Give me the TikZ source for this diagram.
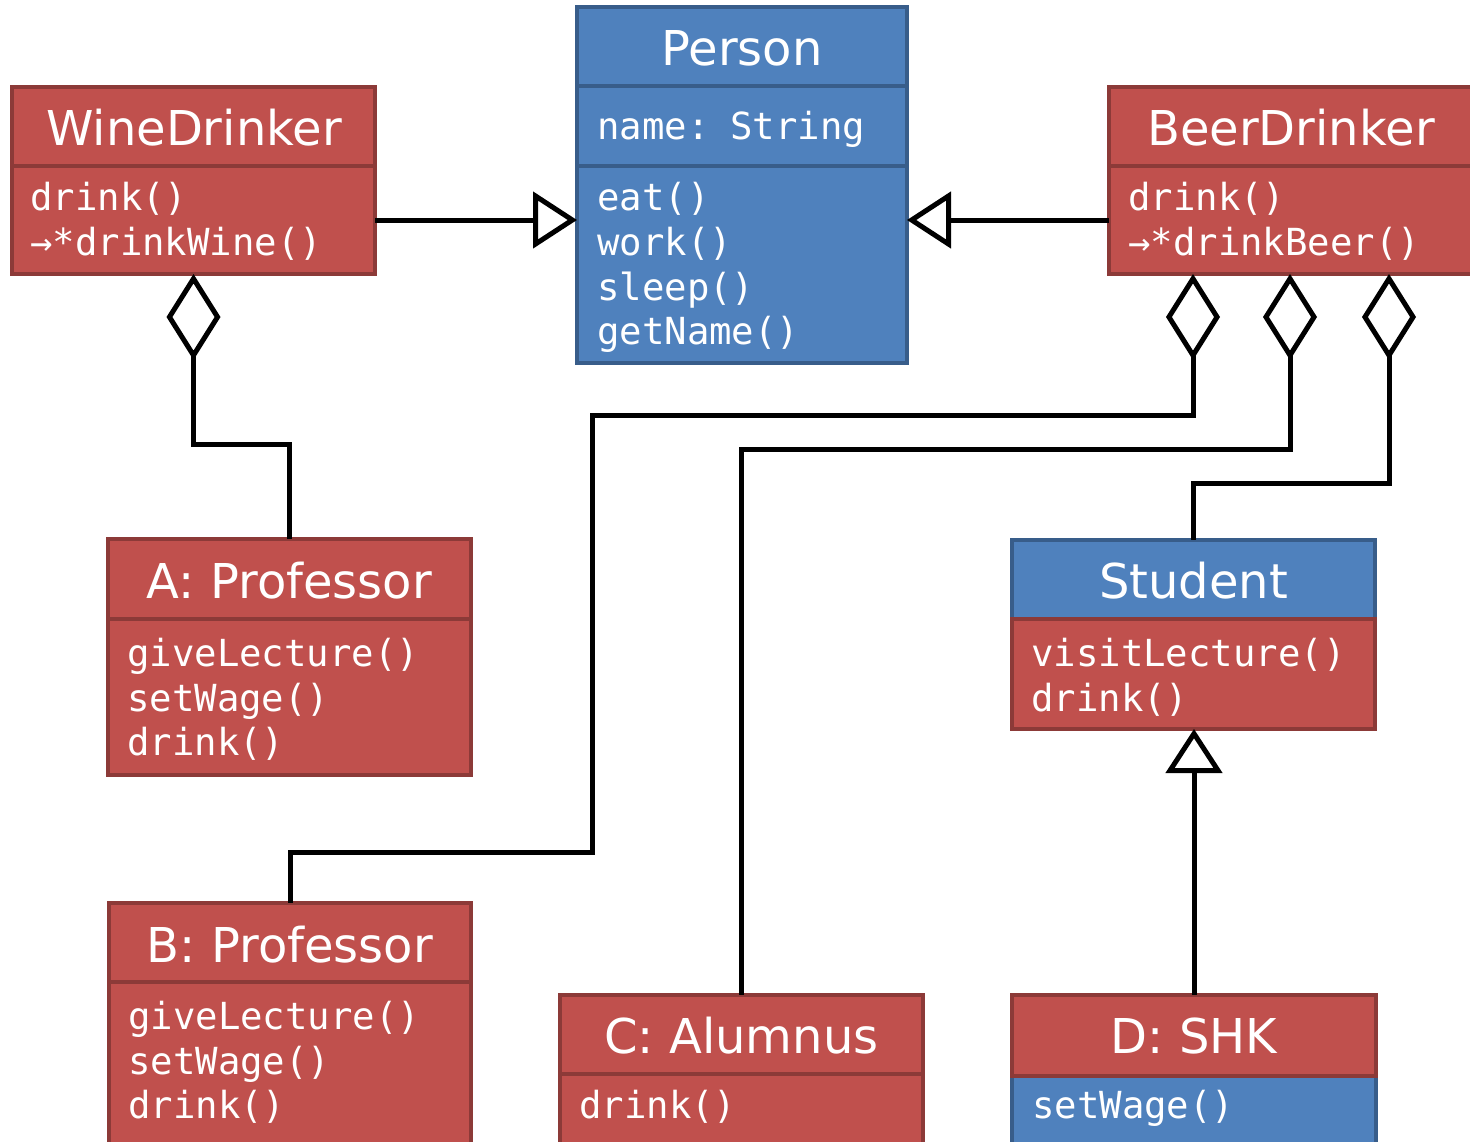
\documentclass[tikz,border=0pt]{standalone}
\usepackage{fontspec}
\usetikzlibrary{arrows.meta}
\newfontfamily\titlefont{DejaVu Sans}
\newfontfamily\methfont{DejaVu Sans Mono}
\definecolor{rfill}{HTML}{C0504D}
\definecolor{rline}{HTML}{8C3A38}
\definecolor{bfill}{HTML}{4F81BD}
\definecolor{bline}{HTML}{385D8A}
\tikzset{
  comp/.style={anchor=north west, inner sep=0pt, outer sep=0pt, line width=4pt},
  redcomp/.style={comp, fill=rfill, draw=rline},
  bluecomp/.style={comp, fill=bfill, draw=bline},
  ttl/.style={anchor=base, text=white, inner sep=0pt, font=\titlefont\fontsize{48}{56}\selectfont},
  meth/.style={anchor=base west, text=white, inner sep=0pt, font=\methfont\fontsize{37.3}{45}\selectfont},
  conn/.style={line width=5pt, black},
  gen/.style={conn, -{Triangle[open, length=44pt, width=56pt]}},
  agg/.style={conn, {Diamond[open, length=86pt, width=54pt]}-},
}
\begin{document}
\begin{tikzpicture}[x=1pt, y=-1pt]
\useasboundingbox (0,0) rectangle (1470,1141);
\clip (0,0) rectangle (1470,1141);
\fill[white] (0,0) rectangle (1470,1141);

% WineDrinker
\node[redcomp, minimum width=363pt, minimum height=79pt] (wdh) at (12,87) {};
\node[redcomp, minimum width=363pt, minimum height=108pt] (wdb) at (12,166) {};
\node[ttl] (wdt) at (194,145) {WineDrinker};
\node[meth] (wdm1) at (30,210) {drink()};
\node[meth] (wdm2) at (30,255) {→*drinkWine()};

% Person
\node[bluecomp, minimum width=330pt, minimum height=79pt] (ph) at (577,7) {};
\node[bluecomp, minimum width=330pt, minimum height=80pt] (pa) at (577,86) {};
\node[bluecomp, minimum width=330pt, minimum height=197pt] (pm) at (577,166) {};
\node[ttl] (pt) at (742,65) {Person};
\node[meth] (pa1) at (597,139) {name:\hspace{-9pt} String};
\node[meth] (pm1) at (597,210) {eat()};
\node[meth] (pm2) at (597,255) {work()};
\node[meth] (pm3) at (597,300) {sleep()};
\node[meth] (pm4) at (597,344) {getName()};

% BeerDrinker
\node[redcomp, minimum width=368pt, minimum height=79pt] (bdh) at (1109,87) {};
\node[redcomp, minimum width=368pt, minimum height=108pt] (bdb) at (1109,166) {};
\node[ttl] (bdt) at (1291,145) {BeerDrinker};
\node[meth] (bdm1) at (1128,210) {drink()};
\node[meth] (bdm2) at (1128,255) {→*drinkBeer()};

% A: Professor
\node[redcomp, minimum width=363pt, minimum height=80pt] (aph) at (108,539) {};
\node[redcomp, minimum width=363pt, minimum height=156pt] (apb) at (108,619) {};
\node[ttl] (apt) at (289.5,598) {A: Professor};
\node[meth] (apm1) at (127,666) {giveLecture()};
\node[meth] (apm2) at (127,711) {setWage()};
\node[meth] (apm3) at (127,755) {drink()};

% Student
\node[bluecomp, minimum width=363pt, minimum height=79pt] (sth) at (1012,540) {};
\node[redcomp, minimum width=363pt, minimum height=110pt] (stb) at (1012,619) {};
\node[ttl] (stt) at (1193.5,598) {Student};
\node[meth] (stm1) at (1031,666) {visitLecture()};
\node[meth] (stm2) at (1031,711) {drink()};

% B: Professor
\node[redcomp, minimum width=362pt, minimum height=79pt] (bph) at (109,903) {};
\node[redcomp, minimum width=362pt, minimum height=170pt] (bpb) at (109,982) {};
\node[ttl] (bpt) at (290,962) {B: Professor};
\node[meth] (bpm1) at (128,1029) {giveLecture()};
\node[meth] (bpm2) at (128,1074) {setWage()};
\node[meth] (bpm3) at (128,1118) {drink()};

% C: Alumnus
\node[redcomp, minimum width=363pt, minimum height=79pt] (cah) at (560,995) {};
\node[redcomp, minimum width=363pt, minimum height=90pt] (cab) at (560,1074) {};
\node[ttl] (cat) at (741.5,1053) {C: Alumnus};
\node[meth] (cam1) at (579,1118) {drink()};

% D: SHK
\node[bluecomp, minimum width=364pt, minimum height=90pt] (dsb) at (1012,1076) {};
\node[redcomp, minimum width=364pt, minimum height=81pt] (dsh) at (1012,995) {};
\node[ttl] (dst) at (1194,1053) {D: SHK};
\node[meth] (dsm1) at (1032,1118) {setWage()};

% generalisations
\draw[gen] (wdb.east) -- (wdb.east -| pm.west);
\draw[gen] (bdb.west) -- (bdb.west -| pm.east);
\draw[gen] (dsh.north) -- (dsh.north |- stb.south);

% aggregations
\draw[agg] (wdb.south) -- ++(0,170) -| (aph.north);
\draw[agg] ([xshift=84pt]bdb.south west) coordinate (d1) -- (d1 |- 0,415) -- (592,415) -- (592,852) -| (bph.north);
\draw[agg] ([xshift=181pt]bdb.south west) coordinate (d2) -- (d2 |- 0,449) -| (cah.north);
\draw[agg] ([xshift=280pt]bdb.south west) coordinate (d3) -- (d3 |- 0,483) -| (sth.north);
\end{tikzpicture}
\end{document}
